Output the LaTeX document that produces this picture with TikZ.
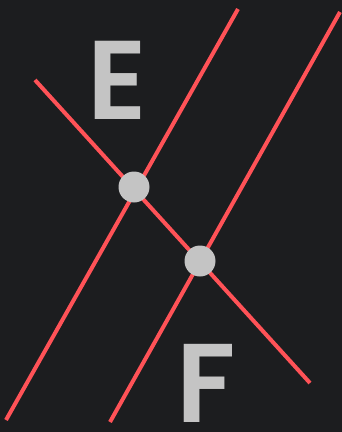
\documentclass[tikz,border=0pt]{standalone}
\usepackage{fontspec}
\usepackage{xcolor}
\usepackage{tikz}
\newfontfamily\lblfont{Poppins SemiBold}
\definecolor{bgdark}{HTML}{1C1D1F}
\definecolor{linered}{HTML}{FF5257}
\definecolor{dotgray}{HTML}{C4C4C4}
\tikzset{
  redline/.style={draw=linered, line width=4pt},
  pt/.style={circle, fill=dotgray, inner sep=0pt, minimum size=31pt},
  lbl/.style={font=\lblfont\fontsize{112}{112}\selectfont, text=dotgray, inner sep=0pt},
}

\begin{document}
\begin{tikzpicture}[x=1pt, y=-1pt]
  % background
  \fill[bgdark] (0,0) rectangle (342,432);
  \useasboundingbox (0,0) rectangle (342,432);
  % line end points
  \coordinate (l1s) at (6,420);
  \coordinate (l1e) at (238,9);
  \coordinate (l2s) at (110,422);
  \coordinate (l2e) at (340,12);
  \coordinate (ts) at (35,80);
  \coordinate (te) at (310,383);
  % lines
  \draw[redline] (l1s) -- (l1e);
  \draw[redline] (l2s) -- (l2e);
  \draw[redline] (ts) -- (te);
  % intersection points
  \node[pt] (ptE) at (134,187) {};
  \node[pt] (ptF) at (200,261) {};
  % labels
  \node[lbl] (labE) at (117,80) {E};
  \node[lbl] (labF) at (206,383) {F};
\end{tikzpicture}
\end{document}
